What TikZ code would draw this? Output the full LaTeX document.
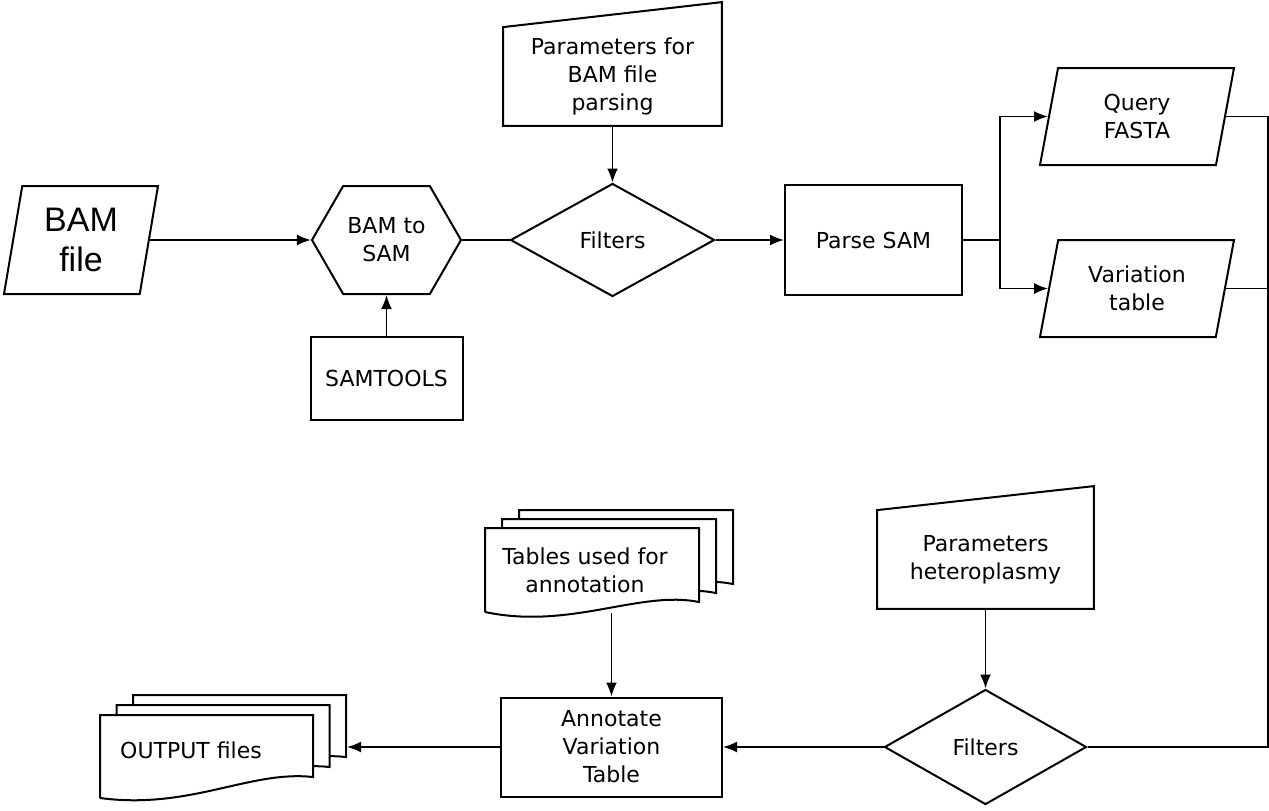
\documentclass[tikz,border=0pt]{standalone}
\usepackage{fontspec}
\setmainfont{DejaVu Sans}
\newfontfamily\arialfont{Liberation Sans}
\usetikzlibrary{arrows.meta, calc, shapes.geometric, shapes.symbols}
\tikzset{
>={Latex[length=7pt,width=5.5pt]}, % small filled arrow heads
every node/.style={font=\fontsize{11}{14}\selectfont, align=center, inner sep=0pt},
procbox/.style={draw, line width=1pt, rectangle}, % process steps
iobox/.style={draw, line width=1pt, trapezium, trapezium stretches body}, % data in/out
decision/.style={draw, line width=1pt, diamond},
prepbox/.style={draw, line width=1pt, signal, signal to=west and east, signal pointer angle=120},
docline/.style={draw, line width=1pt, fill=white}, % stacked documents
}

\begin{document}
\begin{tikzpicture}[x=0.5pt, y=-0.5pt, line width=0.9pt]%y grows downwards, like the screen
  \useasboundingbox (0,0) rectangle (1269,810);

  % stacked documents first, so that the text lies on top
  \foreach \d in {2,1,0}
    \draw[docline, shift={(17*\d,-9*\d)}] (485,612) -- (485,528) -- (699,528) -- (699,602)
      .. controls (640,590) and (570,630) .. (485,612);
  \foreach \d in {2,1,0}
    \draw[docline, shift={(16.5*\d,-10*\d)}] (100,798) -- (100,715) -- (313,715) -- (313,777)
      .. controls (250,770) and (190,810) .. (100,798);

  \node[iobox, minimum width=77pt, minimum height=54pt, trapezium left angle=74, trapezium right angle=106,
        font=\arialfont\fontsize{17}{20}\selectfont] (bam) at (81,240) {BAM\\file};
  \node[prepbox, minimum width=74.5pt, minimum height=54pt] (bam2sam) at (386.5,240) {BAM to\\SAM};
  \node[procbox, minimum width=76pt, minimum height=41.5pt] (samtools) at (386.5,378.5) {SAMTOOLS};
  \node[minimum width=108.5pt, minimum height=48.5pt] (parbam) at (612.5,76.5) {Parameters for\\BAM file\\parsing};
  \node[decision, minimum width=102pt, minimum height=56.5pt] (filt1) at (612.5,240) {Filters};
  \node[procbox, minimum width=88.5pt, minimum height=55pt] (parse) at (873.5,240) {Parse SAM};
  \node[iobox, minimum width=97pt, minimum height=48.5pt, trapezium left angle=68, trapezium right angle=112] (query) at (1137,116.5) {Query\\FASTA};
  \node[iobox, minimum width=97pt, minimum height=48.5pt, trapezium left angle=68, trapezium right angle=112] (vartab) at (1137,288.5) {Variation\\table};
  \node[minimum width=107.5pt, minimum height=48.5pt] (parhet) at (985.5,559.5) {Parameters\\heteroplasmy};
  \node[decision, minimum width=101pt, minimum height=57.5pt] (filt2) at (985.5,747) {Filters};
  \node[procbox, minimum width=110.5pt, minimum height=49.5pt] (annot) at (611.5,747) {Annotate\\Variation\\Table};
  \node[minimum width=100pt, minimum height=42pt] (tables) at (585,570) {Tables used for\\annotation};
  \node (outfiles) at (191,750) {OUTPUT files};

  \coordinate (split) at (1000,240);
  \coordinate (bus) at (1268,747);
  \coordinate (outedge) at (347,747);

  % manual input boxes: slanted top edge
  \draw[line width=1pt] (parbam.south west) -- (parbam.north west) -- ($(parbam.north east)+(0,-25)$) -- (parbam.south east) -- cycle;
  \draw[line width=1pt] (parhet.south west) -- (parhet.north west) -- ($(parhet.north east)+(0,-24)$) -- (parhet.south east) -- cycle;

  \draw[->] (bam.east) -- (bam2sam.west);
  \draw[->] (samtools.north) -- (bam2sam.south);
  \draw (bam2sam.east) -- (filt1.west);
  \draw[->] (parbam.south) -- (filt1.north);
  \draw[->] (filt1.east) -- (parse.west);
  \draw (parse.east) -- (split);
  \draw[->] (split) |- (query.west);
  \draw[->] (split) |- (vartab.west);
  \draw (query.east) -| (bus) -- (filt2.east);
  \draw (vartab.east) -- (vartab.east -| bus);
  \draw[->] (parhet.south) -- (filt2.north);
  \draw[->] (filt2.west) -- (annot.east);
  \draw[->] (tables.south -| annot.north) -- (annot.north);
  \draw[->] (annot.west) -- (outedge);
\end{tikzpicture}
\end{document}
